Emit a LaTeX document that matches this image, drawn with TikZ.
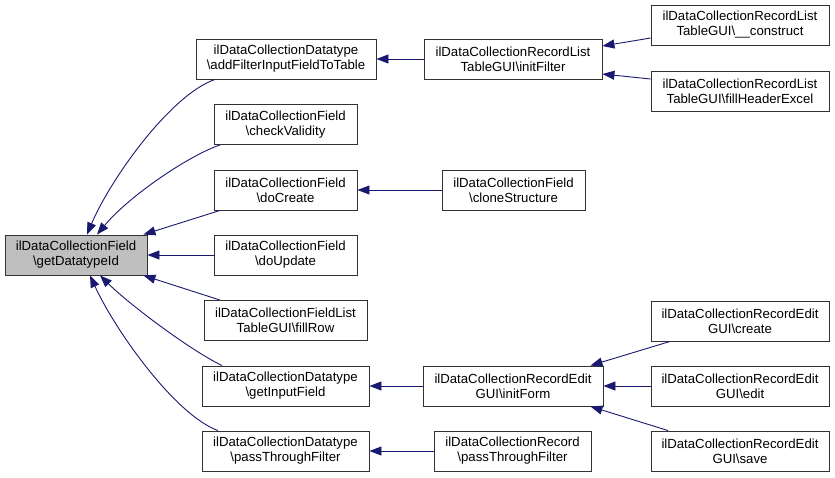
\documentclass[tikz,border=0pt]{standalone}
\usepackage{fontspec}
\setmainfont{Liberation Sans}
\usetikzlibrary{arrows.meta}
\definecolor{edgeblue}{RGB}{25,25,112}
\definecolor{rootgray}{RGB}{191,191,191}
\definecolor{boxline}{RGB}{50,50,50}
\begin{document}
\begin{tikzpicture}[x=1pt,y=-1pt,
  box/.style={draw=boxline, line width=0.9pt, minimum height=40pt, inner sep=0pt,
    align=center, font=\fontsize{13.2}{15}\selectfont},
  edge/.style={draw=edgeblue, line width=0.9pt, {Triangle[length=12pt,width=9pt]}-}]
\useasboundingbox (0,0) rectangle (835,477);
% nodes
\node[box, minimum width=142pt, fill=rootgray] (getid) at (76,255) {ilDataCollectionField\\\textbackslash getDatatypeId};
\node[box, minimum width=180pt] (addf) at (286,59) {ilDataCollectionDatatype\\\textbackslash addFilterInputFieldToTable};
\node[box, minimum width=143pt] (check) at (285.5,124.5) {ilDataCollectionField\\\textbackslash checkValidity};
\node[box, minimum width=143pt] (docreate) at (285.5,190) {ilDataCollectionField\\\textbackslash doCreate};
\node[box, minimum width=143pt] (doupdate) at (285.5,255) {ilDataCollectionField\\\textbackslash doUpdate};
\node[box, minimum width=163pt] (fillrow) at (285.5,320.5) {ilDataCollectionFieldList\\TableGUI\textbackslash fillRow};
\node[box, minimum width=167pt] (getinput) at (285.5,386) {ilDataCollectionDatatype\\\textbackslash getInputField};
\node[box, minimum width=167pt] (passf) at (285.5,451) {ilDataCollectionDatatype\\\textbackslash passThroughFilter};
\node[box, minimum width=178pt] (initfilter) at (513,59) {ilDataCollectionRecordList\\TableGUI\textbackslash initFilter};
\node[box, minimum width=143pt] (clone) at (513.5,190) {ilDataCollectionField\\\textbackslash cloneStructure};
\node[box, minimum width=180pt] (initform) at (513,386) {ilDataCollectionRecordEdit\\GUI\textbackslash initForm};
\node[box, minimum width=157pt] (recpass) at (512.5,451) {ilDataCollectionRecord\\\textbackslash passThroughFilter};
\node[box, minimum width=178pt] (construct) at (740,25) {ilDataCollectionRecordList\\TableGUI\textbackslash\_\_construct};
\node[box, minimum width=178pt] (fillheader) at (740,91) {ilDataCollectionRecordList\\TableGUI\textbackslash fillHeaderExcel};
\node[box, minimum width=178pt] (create) at (740,321) {ilDataCollectionRecordEdit\\GUI\textbackslash create};
\node[box, minimum width=178pt] (edit) at (740,386) {ilDataCollectionRecordEdit\\GUI\textbackslash edit};
\node[box, minimum width=178pt] (save) at (740,451) {ilDataCollectionRecordEdit\\GUI\textbackslash save};
% edges into getDatatypeId
\draw[edge] ([xshift=11pt]getid.north) .. controls (110,180) and (170,95) .. ([xshift=-71pt]addf.south);
\draw[edge] ([xshift=21pt]getid.north) .. controls (130,195) and (190,155) .. ([xshift=-65.5pt]check.south);
\draw[edge] ([xshift=-4pt]getid.north east) -- ([xshift=-65.5pt]docreate.south);
\draw[edge] (getid.east) -- (doupdate.west);
\draw[edge] ([xshift=-4pt]getid.south east) -- ([xshift=-65.5pt]fillrow.north);
\draw[edge] ([xshift=24pt]getid.south) .. controls (130,305) and (190,350) .. ([xshift=-63.5pt]getinput.north);
\draw[edge] ([xshift=14pt]getid.south) .. controls (115,330) and (175,415) .. ([xshift=-67.5pt]passf.north);
% second level
\draw[edge] (addf.east) -- (initfilter.west);
\draw[edge] (docreate.east) -- (clone.west);
\draw[edge] (getinput.east) -- (initform.west);
\draw[edge] (passf.east) -- (recpass.west);
% third level
\draw[edge] ([yshift=13pt]initfilter.east) -- ([yshift=-13pt]construct.west);
\draw[edge] ([yshift=-15pt]initfilter.east) -- ([yshift=12pt]fillheader.west);
\draw[edge] ([xshift=-13pt]initform.north east) -- ([xshift=-70pt]create.south);
\draw[edge] (initform.east) -- (edit.west);
\draw[edge] ([xshift=-13pt]initform.south east) -- ([xshift=-72pt]save.north);
\end{tikzpicture}
\end{document}
